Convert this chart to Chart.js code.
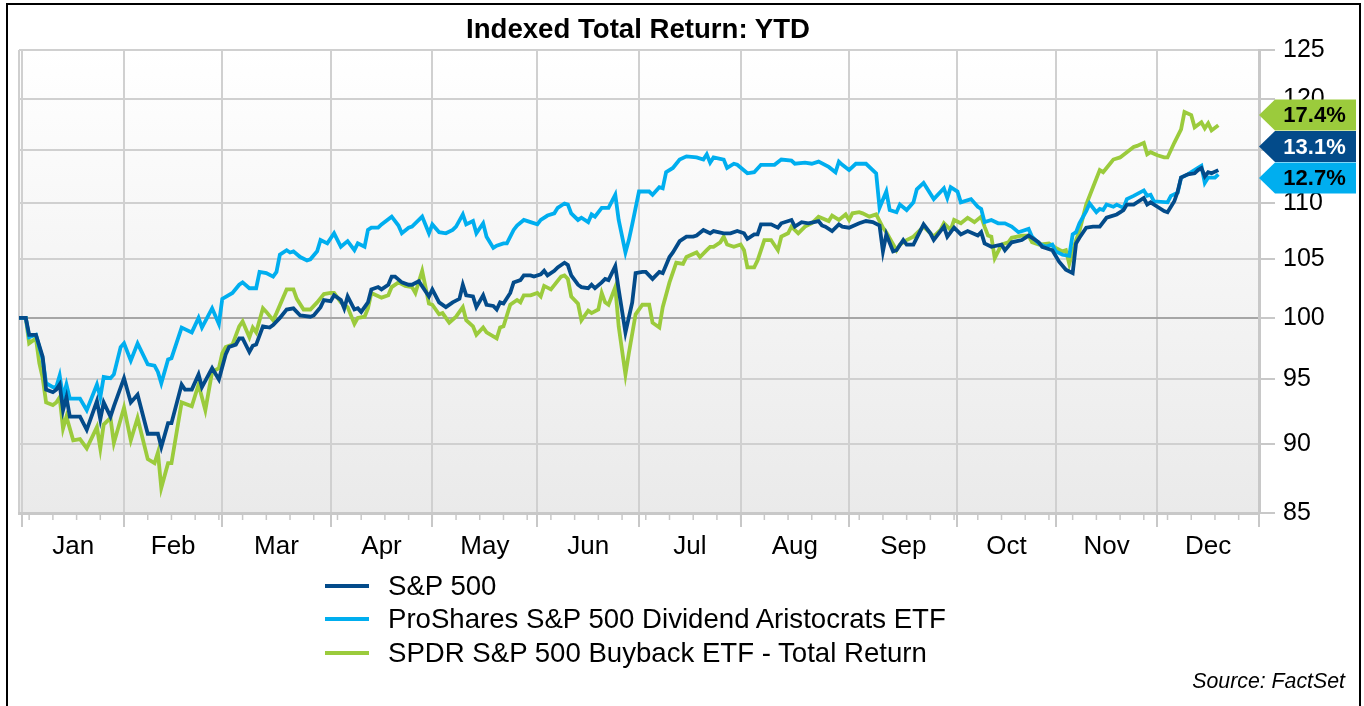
<!DOCTYPE html>
<html><head><meta charset="utf-8">
<script src="https://cdn.jsdelivr.net/npm/chart.js@4.4.1/dist/chart.umd.min.js"></script>
<style>
html,body{margin:0;padding:0;background:#fff;}
#wrap{position:relative;width:1364px;height:706px;overflow:hidden;font-family:"Liberation Sans",Arial,sans-serif;color:#000;}
#frame{position:absolute;left:6px;top:3px;width:1355px;height:730px;border:2px solid #000;box-sizing:border-box;}
canvas{position:absolute;left:0;top:0;}
#title{position:absolute;left:0;width:1276px;top:14px;text-align:center;font-weight:bold;font-size:27.6px;line-height:30px;}
#legend{position:absolute;left:325px;top:569px;}
.row{display:flex;align-items:center;height:33.5px;font-size:27.6px;}
.sw{width:44px;height:4px;margin-right:19px;}
#source{position:absolute;right:19px;top:668px;font-style:italic;font-size:21.3px;line-height:26px;}
</style></head>
<body><div id="wrap">
<canvas id="c" width="1364" height="706"></canvas>
<div id="frame"></div>
<div id="title">Indexed Total Return: YTD</div>
<div id="legend"></div>
<div id="source">Source: FactSet</div>
</div>
<script>
// ---- data (days since Dec 31, 2015) ----
const monthNames = ['Jan','Feb','Mar','Apr','May','Jun','Jul','Aug','Sep','Oct','Nov','Dec'];
const monthStarts = [1,31,60,92,122,153,183,213,245,277,306,336,366];
const yTicks = [85,90,95,100,105,110,115,120,125];
const seriesNames = ['S&P 500','ProShares S&P 500 Dividend Aristocrats ETF','SPDR S&P 500 Buyback ETF - Total Return'];

const spDays = [0,2,3,5,7,8,10,11,12,13,14,15,18,20,23,24,25,27,28,31,33,35,38,41,42,44,45,48,49,51,53,54,57,59,61,62,64,65,66,68,69,70,72,74,75,77,79,81,83,86,87,89,90,92,93,95,96,97,99,100,101,103,104,106,107,109,110,111,113,115,116,118,121,122,124,126,128,130,131,132,134,135,137,138,140,141,142,143,145,146,148,149,151,152,154,155,156,158,159,161,162,163,165,166,168,169,170,172,173,174,176,177,179,181,182,184,185,187,189,190,192,193,195,197,199,200,202,204,205,208,210,212,214,215,217,218,219,222,224,225,228,229,231,233,236,237,238,240,242,243,245,248,250,252,254,255,256,258,259,261,262,264,267,269,270,273,274,276,278,280,283,284,285,287,290,291,293,296,298,301,302,305,307,309,311,312,313,315,317,319,321,322,324,326,327,329,332,333,334,336,338,339,341,342,343,345,347,348,349,350,351,352,354];
const spVals = [100.0,100.0,98.6,98.6,96.8,94.2,94.0,94.2,94.6,92.6,93.6,92.1,92.1,91.1,93.3,91.9,93.2,92.1,92.9,95.1,93.2,93.8,90.8,90.8,89.8,91.6,91.6,94.6,94.2,94.2,95.4,94.4,95.9,95.0,97.0,97.6,97.8,98.3,98.3,97.2,97.7,97.8,99.3,99.2,99.4,100.0,100.7,100.8,100.2,100.1,100.2,100.9,101.5,101.4,101.9,101.5,100.8,101.8,100.7,100.8,100.5,101.3,102.4,102.6,102.4,102.8,103.5,103.5,103.0,102.8,102.8,103.1,101.8,102.4,101.3,100.9,101.3,101.6,102.8,101.9,101.8,100.9,101.9,101.1,101.0,100.7,101.3,101.2,102.1,103.0,103.2,103.6,103.6,103.5,103.7,104.0,103.6,104.0,104.3,104.7,104.5,103.6,102.8,102.6,102.5,102.8,102.5,103.0,103.3,103.2,104.4,102.4,98.8,101.3,103.8,103.9,103.9,103.3,103.9,103.8,105.2,105.6,106.6,107.0,107.0,107.1,107.6,107.3,107.5,107.3,107.3,107.5,107.3,106.8,107.2,107.2,108.1,108.1,107.8,108.2,108.5,107.9,108.3,108.2,108.4,108.0,107.9,107.5,108.1,107.9,107.8,108.2,108.4,108.3,108.0,105.7,107.2,105.7,105.8,106.7,106.3,106.3,108.1,107.3,106.7,107.9,107.0,107.8,107.2,107.5,107.1,107.4,106.4,106.1,106.3,105.8,106.5,106.7,107.1,106.5,106.1,105.8,104.8,104.1,103.8,106.4,106.9,107.8,107.9,107.9,108.7,108.8,109.0,109.4,109.9,109.9,110.5,109.9,110.1,109.7,109.3,109.2,110.2,111.1,112.4,112.7,112.8,113.1,113.3,112.5,112.9,112.8,113.1];

const proDays = [0,2,3,5,7,8,10,11,12,13,14,15,18,20,23,24,25,27,28,30,31,33,35,38,40,41,42,44,45,48,51,53,54,57,59,60,63,65,66,68,70,71,73,75,76,77,79,80,81,83,85,86,88,89,91,93,95,97,99,100,102,103,104,106,107,110,112,113,115,116,119,121,122,124,126,128,129,131,132,134,135,137,138,140,141,143,144,146,147,149,151,153,154,156,158,159,161,162,163,165,166,168,169,170,172,174,176,177,179,180,181,183,186,187,189,190,191,193,195,197,200,202,203,204,205,208,209,211,212,215,217,219,223,225,228,229,232,234,236,239,241,242,243,245,247,250,253,254,256,257,259,260,262,264,265,267,270,273,274,275,277,278,281,283,284,285,287,289,291,293,295,298,299,301,303,305,306,308,310,311,312,313,315,316,318,319,320,321,323,324,326,327,329,332,333,334,335,339,340,342,343,345,346,348,349,350,351,353,354];
const proVals = [100.0,100.0,98.4,98.6,96.6,94.7,94.4,94.4,95.3,93.6,94.6,93.5,93.5,92.6,94.6,93.6,95.2,95.1,95.4,97.6,97.9,96.5,97.9,96.2,96.1,95.6,94.7,96.6,96.7,99.2,98.8,100.0,99.2,100.8,99.5,101.6,102.1,102.8,103.0,102.5,102.5,103.9,103.8,103.5,103.9,105.4,105.8,105.6,105.7,105.2,104.9,105.0,105.7,106.7,106.4,107.3,106.1,106.6,105.8,106.4,106.1,107.6,107.8,107.8,108.1,108.8,108.0,107.3,107.8,107.9,108.8,107.3,108.1,107.4,107.3,107.6,107.9,109.0,108.1,108.4,107.3,108.2,107.0,106.0,106.2,106.4,106.4,107.6,108.0,108.5,108.3,108.1,108.5,108.9,109.1,109.6,110.0,109.9,109.1,108.5,108.7,108.3,109.0,108.8,109.6,109.6,110.8,108.5,105.6,106.7,108.1,111.1,111.1,110.8,111.5,111.4,112.9,113.3,114.1,114.4,114.3,114.1,114.6,113.8,114.3,114.1,113.3,113.7,113.6,112.8,112.9,113.6,113.6,114.1,114.0,113.7,113.8,113.7,113.9,113.4,112.9,113.9,113.6,113.1,113.7,113.7,112.8,109.6,111.1,109.4,109.2,109.9,109.4,110.1,111.3,111.9,110.4,111.4,110.5,111.5,111.1,110.1,110.4,109.7,109.5,108.3,108.5,108.2,108.2,107.9,107.4,107.7,107.0,106.4,106.1,106.3,105.7,105.4,105.3,107.2,107.4,108.2,109.3,110.0,109.2,109.5,109.4,109.9,109.7,109.9,109.6,110.4,110.7,111.2,110.7,110.8,110.2,110.1,110.7,111.0,112.4,112.7,112.9,113.3,113.5,111.9,112.4,112.4,112.7];

const bbDays = [0,2,3,5,6,7,8,10,11,12,13,14,16,18,20,23,24,25,27,28,31,33,35,38,40,41,42,44,45,48,51,53,55,57,59,60,61,63,65,66,68,69,70,72,73,75,76,79,81,82,84,86,88,90,92,93,95,97,99,100,102,103,104,107,109,110,112,114,116,117,119,121,122,124,125,127,129,131,132,134,135,137,138,141,142,143,145,147,148,149,151,153,154,155,157,160,161,162,163,165,166,168,169,171,172,173,174,176,177,179,180,182,184,186,187,189,190,192,194,196,197,200,201,203,204,205,207,208,209,211,213,214,215,217,218,220,222,224,225,227,228,230,232,234,236,239,240,242,244,245,246,248,249,251,253,255,256,259,260,262,264,267,270,272,273,275,276,278,280,282,284,285,286,287,288,290,292,293,296,298,299,301,304,306,308,309,310,312,313,315,317,319,320,321,323,325,327,329,330,332,333,334,336,338,339,341,343,344,346,347,349,350,351,352,354];
const bbVals = [100.0,100.0,97.9,98.3,96.3,95.1,93.2,93.0,93.2,93.6,91.2,92.1,90.3,90.4,89.7,91.3,89.7,91.5,92.0,90.1,92.8,90.3,92.0,88.9,88.6,89.4,86.8,88.6,88.6,93.2,92.9,94.6,92.6,95.6,95.9,97.1,97.6,97.8,99.3,99.7,98.4,99.2,98.8,100.8,100.5,99.8,100.4,102.4,102.4,101.6,100.7,100.7,101.3,102.0,102.1,102.1,101.3,100.9,99.5,100.0,100.1,100.8,102.1,101.7,101.9,102.6,103.0,102.7,102.6,102.1,104.0,101.2,101.1,100.3,100.4,99.6,100.1,100.9,99.8,99.3,98.6,99.2,98.8,98.3,99.2,99.3,101.1,101.5,101.3,101.9,101.9,102.1,101.8,102.7,102.4,103.5,103.6,103.3,101.8,101.2,99.8,100.6,100.4,100.7,102.1,101.3,101.1,102.6,99.3,95.4,97.1,100.3,101.1,101.1,99.6,99.2,100.9,103.0,104.7,104.6,105.2,105.6,105.2,105.8,106.1,106.1,106.5,107.0,106.3,106.1,106.3,105.8,104.3,104.3,104.9,106.7,106.7,105.8,107.0,107.3,107.9,107.3,107.9,108.2,108.8,108.4,108.9,108.5,109.0,108.5,109.1,109.2,109.1,108.8,109.0,107.8,107.4,105.8,106.3,106.7,107.0,107.9,107.0,107.6,108.2,107.6,108.5,108.2,108.7,108.3,108.8,107.9,107.1,107.0,105.1,106.3,106.5,106.9,107.1,107.1,106.5,106.3,106.4,106.0,105.7,105.8,104.6,106.7,107.5,109.9,111.5,113.1,112.9,113.3,114.1,114.3,114.8,115.3,115.4,115.7,114.6,114.8,114.5,114.3,114.3,115.7,117.0,118.7,118.4,117.2,117.7,117.1,117.6,116.9,117.4];

const lineColors = ['#034b8a','#00aeef','#9bcb3c'];
const tagText = ['#ffffff','#000000','#000000'];

// ---- legend (HTML) ----
const leg = document.getElementById('legend');
seriesNames.forEach((n,i)=>{
  const r=document.createElement('div'); r.className='row';
  const s=document.createElement('div'); s.className='sw'; s.style.background=lineColors[i];
  const t=document.createElement('span'); t.textContent=n;
  r.appendChild(s); r.appendChild(t); leg.appendChild(r);
});

const monthMids = monthNames.map((m,i)=>(monthStarts[i]+monthStarts[i+1])/2);
const weekTicks = []; for(let d=3; d<366; d+=7) weekTicks.push(d);
const isBoundary = v => monthStarts.includes(v);

const bgPlugin = {
  id:'bg',
  beforeDraw(chart){
    const {ctx, chartArea:a} = chart;
    const g = ctx.createLinearGradient(0,a.top,0,a.bottom);
    g.addColorStop(0,'#ffffff'); g.addColorStop(1,'#eaeaea');
    ctx.save(); ctx.fillStyle=g; ctx.fillRect(a.left,a.top,a.right-a.left,a.bottom-a.top);
    ctx.strokeStyle='#cfcfcf'; ctx.lineWidth=2;
    ctx.beginPath(); ctx.moveTo(a.left,a.top); ctx.lineTo(a.left,a.bottom); ctx.stroke();
    ctx.restore();
  },
  afterDraw(chart){
    const {ctx, chartArea:a, scales:{x}} = chart;
    ctx.save(); ctx.strokeStyle='#c8c8c8'; ctx.lineWidth=1.5;
    weekTicks.forEach(d=>{ const px=x.getPixelForValue(d); ctx.beginPath(); ctx.moveTo(px,a.bottom); ctx.lineTo(px,a.bottom+7); ctx.stroke(); });
    ctx.restore();
  }
};

const tagPlugin = {
  id:'tags',
  afterDraw(chart){
    const {ctx, chartArea:a, scales:{y}} = chart;
    const h = 31.5, shift = -10, arrow = 16, right = 1356;
    const items = chart.data.datasets.map((ds,i)=>{
      const last = ds.data[ds.data.length-1].y;
      return {y:y.getPixelForValue(last), txt:(last-100).toFixed(1)+'%', bg:lineColors[i], fg:tagText[i]};
    }).sort((p,q)=>p.y-q.y);
    let groups = items.map(it=>({items:[it], c:it.y}));
    let changed = true;
    while(changed){
      changed=false;
      for(let i=0;i<groups.length-1;i++){
        const g1=groups[i], g2=groups[i+1];
        if(g1.c+g1.items.length*h/2 > g2.c-g2.items.length*h/2){
          const all=g1.items.concat(g2.items);
          groups.splice(i,2,{items:all,c:all.reduce((s,it)=>s+it.y,0)/all.length});
          changed=true; break;
        }
      }
    }
    ctx.save();
    groups.forEach(g=>{
      g.items.forEach((it,k)=>{
        const cy = g.c - (g.items.length-1)*h/2 + k*h + shift;
        const x0 = a.right, t = cy-15.5, b = cy+15.5;
        ctx.fillStyle = it.bg;
        ctx.beginPath(); ctx.moveTo(x0,cy); ctx.lineTo(x0+arrow,t); ctx.lineTo(right,t); ctx.lineTo(right,b); ctx.lineTo(x0+arrow,b); ctx.closePath(); ctx.fill();
        ctx.fillStyle = it.fg; ctx.font = 'bold 22px "Liberation Sans", Arial, sans-serif';
        ctx.textAlign='center'; ctx.textBaseline='middle';
        ctx.fillText(it.txt, (x0+arrow+right)/2 - 1, cy+1);
      });
    });
    ctx.restore();
  }
};

const mk = (days, vals) => days.map((d,i)=>({x:d, y:vals[i]}));

new Chart(document.getElementById('c'), {
  type:'line',
  data:{ datasets:[
    {label:seriesNames[0], data:mk(spDays,spVals), borderColor:lineColors[0], backgroundColor:lineColors[0], borderWidth:3.8, pointRadius:0, tension:0, fill:false},
    {label:seriesNames[1], data:mk(proDays,proVals), borderColor:lineColors[1], backgroundColor:lineColors[1], borderWidth:3.8, pointRadius:0, tension:0, fill:false},
    {label:seriesNames[2], data:mk(bbDays,bbVals), borderColor:lineColors[2], backgroundColor:lineColors[2], borderWidth:3.8, pointRadius:0, tension:0, fill:false}
  ]},
  options:{
    responsive:false, animation:false, devicePixelRatio:1,
    layout:{padding:{left:19, top:50, right:0, bottom:136}},
    plugins:{legend:{display:false}, title:{display:false}, tooltip:{enabled:false}},
    scales:{
      x:{
        type:'linear', position:'bottom', min:0, max:366,
        afterBuildTicks(scale){ scale.ticks = monthStarts.concat(monthMids).sort((p,q)=>p-q).map(v=>({value:v})); },
        afterFit(scale){ scale.height = 57; },
        ticks:{
          autoSkip:false, maxRotation:0, minRotation:0, padding:4, color:'#000',
          font:{family:'"Liberation Sans", Arial, sans-serif', size:26},
          callback(v){ const i = monthMids.indexOf(v); return i>=0 ? monthNames[i] : ''; }
        },
        grid:{
          lineWidth:2, tickLength:14, drawTicks:true,
          color:ctx=> isBoundary(ctx.tick.value) ? '#d0d0d0' : 'rgba(0,0,0,0)',
          tickColor:ctx=> isBoundary(ctx.tick.value) ? '#c8c8c8' : 'rgba(0,0,0,0)'
        },
        border:{display:true, color:'#c8c8c8', width:3}
      },
      y:{
        type:'logarithmic', position:'right', min:85, max:125,
        afterBuildTicks(scale){ scale.ticks = yTicks.map(v=>({value:v})); },
        afterFit(scale){ scale.width = 105; },
        ticks:{
          padding:8, color:'#000',
          font:{family:'"Liberation Sans", Arial, sans-serif', size:25},
          callback(v){ return String(v); }
        },
        grid:{
          lineWidth:2, tickLength:16, drawTicks:true,
          color:ctx=> ctx.tick && ctx.tick.value===100 ? '#a6a6a6' : '#d0d0d0',
          tickColor:'#c8c8c8'
        },
        border:{display:true, color:'#c8c8c8', width:3}
      }
    }
  },
  plugins:[bgPlugin, tagPlugin]
});
</script>
</body></html>
